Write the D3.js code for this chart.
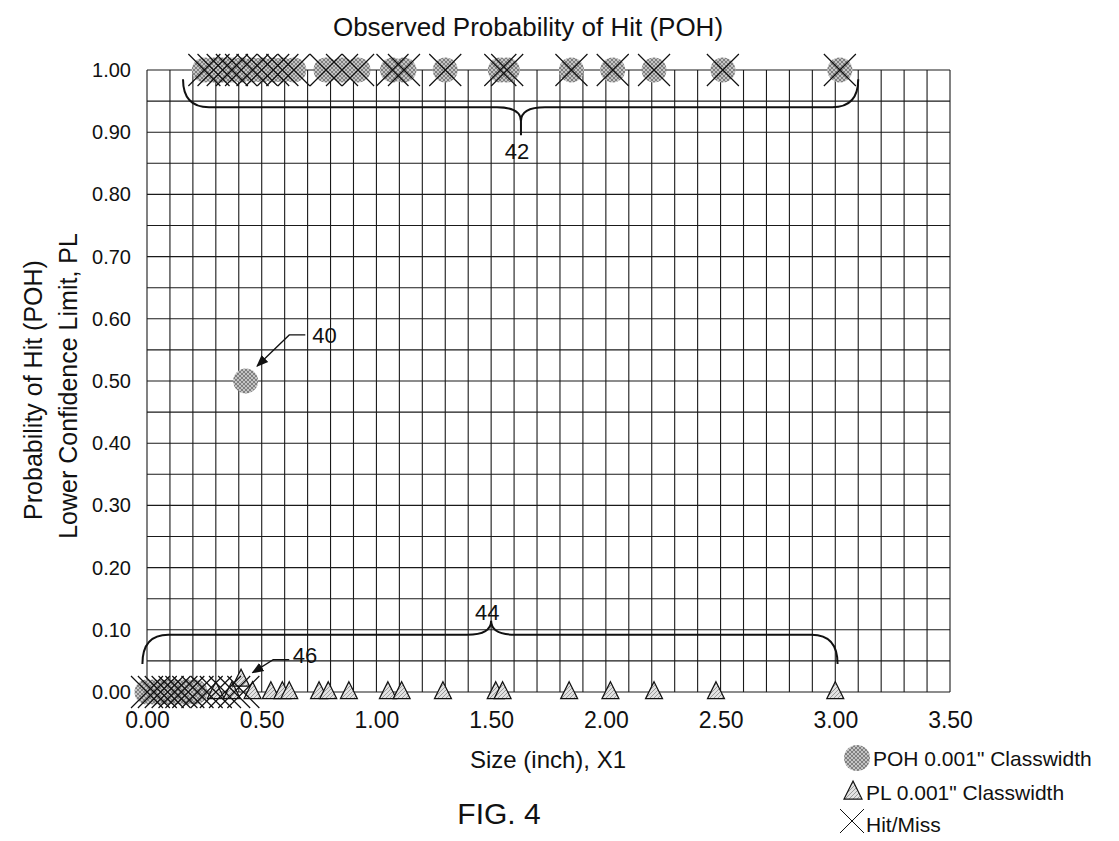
<!DOCTYPE html>
<html>
<head>
<meta charset="utf-8">
<script src="https://cdn.jsdelivr.net/npm/d3@7"></script>
<style>
  body { margin: 0; background: #fff; }
  svg text { font-family: "Liberation Sans", Arial, sans-serif; fill: #111; }
</style>
</head>
<body>
<div id="screen"></div>
<script>
var width = 1119;
var height = 841;

// POH points (circles)
var pohX = [0.00, 0.03, 0.06, 0.09, 0.12, 0.15, 0.18, 0.21,
  0.43,
  0.25, 0.29, 0.33, 0.37, 0.41, 0.46, 0.50, 0.55, 0.59, 0.64,
  0.78, 0.85, 0.92, 1.07, 1.12, 1.30, 1.54, 1.57, 1.85, 2.03, 2.21, 2.51, 3.02];
var pohY = [0, 0, 0, 0, 0, 0, 0, 0,
  0.50,
  1, 1, 1, 1, 1, 1, 1, 1, 1, 1,
  1, 1, 1, 1, 1, 1, 1, 1, 1, 1, 1, 1, 1];

// PL lower confidence limit (triangles)
var plX = [0.30, 0.37, 0.41, 0.46, 0.54, 0.59, 0.62, 0.75, 0.79, 0.88,
  1.05, 1.11, 1.29, 1.52, 1.55, 1.84, 2.02, 2.21, 2.48, 3.00];
var plY = [0, 0, 0.02, 0, 0, 0, 0, 0, 0, 0,
  0, 0, 0, 0, 0, 0, 0, 0, 0, 0];

// hit / miss raw observations (x marks)
var hitMissX = [0.00, 0.03, 0.06, 0.09, 0.12, 0.15, 0.18, 0.22, 0.26, 0.30, 0.34, 0.38, 0.42,
  0.25, 0.29, 0.33, 0.37, 0.41, 0.46, 0.50, 0.55, 0.59, 0.64,
  0.78, 0.85, 0.92, 1.07, 1.12, 1.30, 1.54, 1.57, 1.85, 2.03, 2.21, 2.51, 3.02];
var hitMissY = [0, 0, 0, 0, 0, 0, 0, 0, 0, 0, 0, 0, 0,
  1, 1, 1, 1, 1, 1, 1, 1, 1, 1,
  1, 1, 1, 1, 1, 1, 1, 1, 1, 1, 1, 1, 1];

var xTicks = [0, 0.5, 1.0, 1.5, 2.0, 2.5, 3.0, 3.5];
var yTicks = [0, 0.1, 0.2, 0.3, 0.4, 0.5, 0.6, 0.7, 0.8, 0.9, 1.0];

var legendLabels = ["POH 0.001\" Classwidth", "PL 0.001\" Classwidth", "Hit/Miss"];

// reference numerals: braces (in data units)
var braceLabel = ["42", "44"];
var braceX0 = [0.157, -0.02];
var braceX1 = [3.10, 3.01];
var braceXm = [1.63, 1.50];
var braceYEnd = [0.985, 0.045];
var braceYBar = [0.940, 0.092];
var braceYTip = [0.895, 0.112];

var x = d3.scaleLinear().domain([0, 3.5]).range([147, 950]);
var y = d3.scaleLinear().domain([0, 1]).range([692, 70]);

var svg = d3.select("#screen").append("svg")
  .attr("width", width).attr("height", height);

// fill textures
var defs = svg.append("defs");
var pat = defs.append("pattern").attr("id", "dots")
  .attr("width", 4).attr("height", 4).attr("patternUnits", "userSpaceOnUse");
pat.append("rect").attr("width", 4).attr("height", 4).attr("fill", "#c4c4c4");
pat.append("path").attr("d", "M0,0L4,4M4,0L0,4").attr("stroke", "#6e6e6e").attr("stroke-width", 0.8);
var pat2 = defs.append("pattern").attr("id", "hatch")
  .attr("width", 4).attr("height", 4).attr("patternUnits", "userSpaceOnUse");
pat2.append("rect").attr("width", 4).attr("height", 4).attr("fill", "#e2e2e2");
pat2.append("path").attr("d", "M0,4L4,0").attr("stroke", "#8a8a8a").attr("stroke-width", 0.8);
defs.append("marker").attr("id", "arrow")
  .attr("viewBox", "0 0 10 10").attr("refX", 9).attr("refY", 5)
  .attr("markerWidth", 12).attr("markerHeight", 12).attr("markerUnits", "userSpaceOnUse")
  .attr("orient", "auto")
  .append("path").attr("d", "M0,1L10,5L0,9Z").attr("fill", "#111");

// grid
var vGrid = d3.range(0, 36).map(function(i){ return i / 10; });
var hGrid = d3.range(0, 21).map(function(i){ return i / 20; });
var grid = svg.append("g").attr("stroke", "#1a1a1a").attr("stroke-width", 1.1);
grid.selectAll("line.v").data(vGrid).enter().append("line")
  .attr("x1", function(d){ return x(d); }).attr("x2", function(d){ return x(d); })
  .attr("y1", y(0)).attr("y2", y(1));
grid.selectAll("line.h").data(hGrid).enter().append("line")
  .attr("y1", function(d){ return y(d); }).attr("y2", function(d){ return y(d); })
  .attr("x1", x(0)).attr("x2", x(3.5));

// axes
var yAxis = d3.axisLeft(y).tickValues(yTicks).tickFormat(d3.format(".2f")).tickSize(0).tickPadding(16);
var yAxisSpr = svg.append("g").attr("transform", "translate(" + x(0) + ",0)").call(yAxis);
yAxisSpr.select(".domain").remove();
yAxisSpr.selectAll("text").attr("font-size", 20).style("font-family", null);

var xAxis = d3.axisBottom(x).tickValues(xTicks).tickFormat(d3.format(".2f")).tickSize(0).tickPadding(20);
var xAxisSpr = svg.append("g").attr("transform", "translate(0," + y(0) + ")").call(xAxis);
xAxisSpr.select(".domain").remove();
xAxisSpr.selectAll("text").attr("font-size", 23).style("font-family", null);

// POH circles
svg.append("g").selectAll("circle").data(pohX).enter().append("circle")
  .attr("cx", function(d){ return x(d); })
  .attr("cy", function(d, i){ return y(pohY[i]); })
  .attr("r", 12.5)
  .attr("fill", "url(#dots)");

// PL triangles
var tri = function(cx, cy, s){
  return "M" + cx + "," + (cy - s * 0.55) + "L" + (cx + s / 2) + "," + (cy + s * 0.45) +
    "L" + (cx - s / 2) + "," + (cy + s * 0.45) + "Z";
};
svg.append("g").selectAll("path").data(plX).enter().append("path")
  .attr("d", function(d, i){ return tri(x(d), y(plY[i]) - 1, 17); })
  .attr("fill", "url(#hatch)").attr("stroke", "#111").attr("stroke-width", 1.2);

// hit/miss crosses
var cross = function(cx, cy, s){
  return "M" + (cx - s) + "," + (cy - s) + "L" + (cx + s) + "," + (cy + s) +
    "M" + (cx + s) + "," + (cy - s) + "L" + (cx - s) + "," + (cy + s);
};
svg.append("g").selectAll("path").data(hitMissX).enter().append("path")
  .attr("d", function(d, i){ return cross(x(d), y(hitMissY[i]), 16); })
  .attr("fill", "none").attr("stroke", "#111").attr("stroke-width", 1.2);

// braces 42 / 44
var bracePath = function(i){
  var p = d3.path();
  var xm = x(braceXm[i]), yb = y(braceYBar[i]), yt = y(braceYTip[i]);
  var dir = yt > yb ? 1 : -1;
  [braceX0[i], braceX1[i]].forEach(function(xe){
    var xs = x(xe), ye = y(braceYEnd[i]);
    var s = xs < xm ? 1 : -1;
    p.moveTo(xs, ye);
    p.quadraticCurveTo(xs, yb, xs + s * 26, yb);
    p.lineTo(xm - s * 24, yb);
    p.quadraticCurveTo(xm, yb, xm, yb + dir * 14);
    p.lineTo(xm, yt);
  });
  return p.toString();
};
var braces = svg.append("g");
braces.selectAll("path").data(braceLabel).enter().append("path")
  .attr("d", function(d, i){ return bracePath(i); })
  .attr("fill", "none").attr("stroke", "#111").attr("stroke-width", 2);
braces.selectAll("text").data(braceLabel).enter().append("text")
  .attr("x", function(d, i){ return x(braceXm[i]) - 4; })
  .attr("y", function(d, i){ return i == 0 ? y(braceYTip[i]) + 24 : y(braceYTip[i]) - 2; })
  .attr("text-anchor", "middle").attr("font-size", 22)
  .text(function(d){ return d; });

// leaders 40 / 46
var leaderLabel = ["40", "46"];
var leaderTextX = [0.72, 0.635];
var leaderTextY = [0.561, 0.046];
var leaderX0 = [0.69, 0.62];
var leaderX1 = [0.62, 0.55];
var leaderY = [0.574, 0.052];
var leaderTipX = [0.48, 0.46];
var leaderTipY = [0.524, 0.031];
var leaders = svg.append("g");
leaders.selectAll("path").data(leaderLabel).enter().append("path")
  .attr("d", function(d, i){
    return "M" + x(leaderX0[i]) + "," + y(leaderY[i]) + "L" + x(leaderX1[i]) + "," + y(leaderY[i]) +
      "L" + x(leaderTipX[i]) + "," + y(leaderTipY[i]);
  })
  .attr("fill", "none").attr("stroke", "#111").attr("stroke-width", 1.3)
  .attr("marker-end", "url(#arrow)");
leaders.selectAll("text").data(leaderLabel).enter().append("text")
  .attr("x", function(d, i){ return x(leaderTextX[i]); })
  .attr("y", function(d, i){ return y(leaderTextY[i]); })
  .attr("font-size", 22)
  .text(function(d){ return d; });

// titles
svg.append("text").attr("x", 528).attr("y", 36).attr("text-anchor", "middle")
  .attr("font-size", 26).text("Observed Probability of Hit (POH)");
svg.append("text").attr("x", 548).attr("y", 768).attr("text-anchor", "middle")
  .attr("font-size", 24).text("Size (inch), X1");
svg.append("text").attr("transform", "translate(42,390) rotate(-90)").attr("text-anchor", "middle")
  .attr("font-size", 25).text("Probability of Hit (POH)");
svg.append("text").attr("transform", "translate(77,386) rotate(-90)").attr("text-anchor", "middle")
  .attr("font-size", 25).text("Lower Confidence Limit, PL");
svg.append("text").attr("x", 499).attr("y", 824).attr("text-anchor", "middle")
  .attr("font-size", 30).text("FIG. 4");

// legend
var legend = svg.append("g");
legend.append("circle").attr("cx", 857).attr("cy", 758).attr("r", 13).attr("fill", "url(#dots)");
legend.append("path").attr("d", tri(853, 791, 18))
  .attr("fill", "url(#hatch)").attr("stroke", "#111").attr("stroke-width", 1.2);
legend.append("path").attr("d", cross(852, 821, 12))
  .attr("fill", "none").attr("stroke", "#111").attr("stroke-width", 1);
var legendX = [873, 866, 866];
var legendY = [766, 800, 832];
legend.selectAll("text").data(legendLabels).enter().append("text")
  .attr("x", function(d, i){ return legendX[i]; })
  .attr("y", function(d, i){ return legendY[i]; })
  .attr("font-size", 21)
  .text(function(d){ return d; });
</script>
</body>
</html>
